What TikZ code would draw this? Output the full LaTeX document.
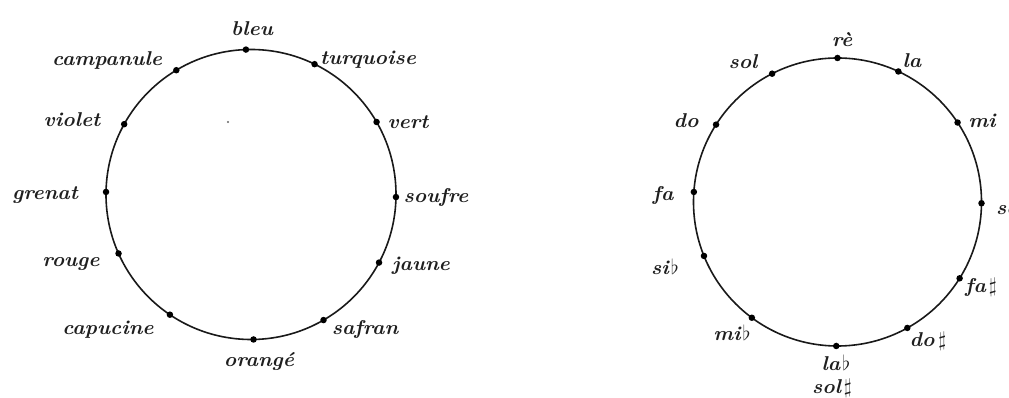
\documentclass[tikz,border=0pt]{standalone}
\usepackage{fontspec}
\newfontfamily\hand[Extension=.otf,FakeStretch=1.05]{lmroman10-bolditalic}
\usetikzlibrary{calc}
\begin{document}
\begin{tikzpicture}[x=1pt,y=1pt,
  ring/.style={draw=black!90,line width=1.6pt},
  dot/.style={circle,fill=black,inner sep=0pt,minimum size=6.5pt},
  lbl/.style={inner sep=0pt,font=\hand\fontsize{20}{24}\selectfont,text=black!88}]
\useasboundingbox (0,0) rectangle (1009,398);
\clip (0,0) rectangle (1009,398);
\fill[white] (0,0) rectangle (1009,398);
% left circle: colours
\coordinate (L) at (251,203.5);
\draw[ring] (L) circle (145);
\foreach \n/\a in {bleu/92,turquoise/64,campanule/121,vert/30,violet/151,grenat/179,
  soufre/-1,rouge/204,jaune/-28,capucine/236,safran/-60,orange/-89}{
  \node[dot] (d-\n) at ($(L)+(\a:145)$) {};
}
\node[lbl] (t-bleu) at (252,369) {bleu};
\node[lbl] (t-campanule) at (107,338) {campanule};
\node[lbl] (t-turquoise) at (368,338) {turquoise};
\node[lbl] (t-violet) at (72,278) {violet};
\node[lbl] (t-vert) at (408,276) {vert};
\node[lbl] (t-grenat) at (45,203) {grenat};
\node[lbl] (t-soufre) at (436,200) {soufre};
\node[lbl] (t-rouge) at (71,134) {rouge};
\node[lbl] (t-jaune) at (421,132) {jaune};
\node[lbl] (t-capucine) at (108,68) {capucine};
\node[lbl] (t-safran) at (365,68) {safran};
\node[lbl] (t-orange) at (259,36) {orangé};
\node[circle,fill=black!60,inner sep=0pt,minimum size=2.2pt] (stray) at (228,276) {};
% right circle: notes
\coordinate (R) at (837.5,196);
\draw[ring] (R) circle (144);
\foreach \n/\a in {re/90,la/65,mi/33.5,solr/-0.5,fad/-32,dod/-61,lab/-90.5,
  mib/233.5,sib/202,fa/176,do/147.5,sol/117}{
  \node[dot] (d-\n) at ($(R)+(\a:144)$) {};
}
\node[lbl] (t-re) at (842,358) {rè};
\node[lbl] (t-sol) at (743,336) {sol};
\node[lbl] (t-la) at (912,337) {la};
\node[lbl] (t-do) at (686,277) {do};
\node[lbl] (t-mi) at (982,277) {mi};
\node[lbl] (t-fa) at (663,202) {fa};
\node[lbl,anchor=west] (t-solr) at (996,190) {sol};
\node[lbl] (t-sib) at (665,131) {si\kern2pt$\flat$};
\node[lbl] (t-fad) at (981,111) {fa\kern3pt$\sharp$};
\node[lbl] (t-mib) at (732,65) {mi\kern2pt$\flat$};
\node[lbl] (t-dod) at (928,57) {do\kern4pt$\sharp$};
\node[lbl] (t-lab) at (836,35) {la\kern2pt$\flat$};
\node[lbl] (t-sold) at (832,10) {sol\kern3pt$\sharp$};
\end{tikzpicture}
\end{document}
